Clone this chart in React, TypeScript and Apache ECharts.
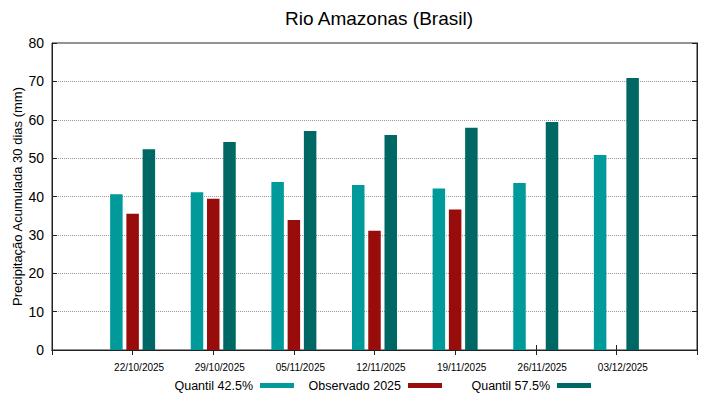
import React, { useEffect, useRef } from "react";
import * as echarts from "echarts";

const dates = ["22/10/2025", "29/10/2025", "05/11/2025", "12/11/2025", "19/11/2025", "26/11/2025", "03/12/2025"];
const quantil425 = [40.6, 41.1, 43.8, 43.0, 42.1, 43.5, 50.8];
const observado2025: (number | null)[] = [35.5, 39.4, 33.9, 31.1, 36.6, null, null];
const quantil575 = [52.3, 54.2, 57.1, 56.0, 57.9, 59.4, 70.9];
const seriesNames = ["Quantil 42.5%", "Observado 2025", "Quantil 57.5%"];
const colors = ["#009a9a", "#990c0c", "#006864"];

const pad = (arr: (number | null)[]) => ["-", ...arr.map((v) => (v == null ? "-" : v)), "-"];

export default function App() {
  const ref = useRef<HTMLDivElement>(null);
  useEffect(() => {
    if (!ref.current) return;
    const chart = echarts.init(ref.current, null, { renderer: "svg" });
    const cats = ["", ...dates, ""];
    const font = "'Liberation Sans', Arial, sans-serif";
    const legendRights = [719 - 294, 719 - 442, 719 - 591];
    chart.setOption({
      animation: false,
      textStyle: { fontFamily: font },
      title: {
        text: "Rio Amazonas (Brasil)",
        left: 374,
        textAlign: "center",
        top: 4,
        textStyle: { fontSize: 19, fontWeight: "normal", color: "#000", fontFamily: font },
      },
      legend: seriesNames.map((n, i) => ({
        data: [n],
        right: legendRights[i],
        top: 379,
        align: "right",
        icon: "rect",
        itemWidth: 34,
        itemHeight: 5,
        padding: 0,
        textStyle: { fontSize: 12.5, color: "#000", fontFamily: font, padding: [0, 2, 0, 0] },
        selectedMode: false,
      })),
      grid: {
        left: 52,
        right: 22,
        top: 43,
        bottom: 49,
        show: true,
        borderColor: "#222",
        borderWidth: 1,
        backgroundColor: "transparent",
        outerBoundsMode: "none",
        containLabel: false,
      },
      xAxis: [
        {
          type: "category",
          data: cats,
          boundaryGap: false,
          position: "bottom",
          axisLine: { lineStyle: { color: "#222" } },
          axisTick: { inside: true, length: 5, interval: 0, lineStyle: { color: "#222" } },
          axisLabel: { interval: 0, fontSize: 10, color: "#000", margin: 12, fontFamily: font, padding: [0, 0, 0, 13] },
          splitLine: { show: false },
        },
        {
          type: "category",
          data: cats,
          boundaryGap: false,
          position: "top",
          axisLine: { lineStyle: { color: "#222" } },
          axisTick: { inside: true, length: 5, interval: 0, lineStyle: { color: "#222" } },
          axisLabel: { show: false },
          splitLine: { show: false },
        },
      ],
      yAxis: [
        {
          type: "value",
          min: 0,
          max: 80,
          interval: 10,
          name: "Precipitação Acumulada 30 dias (mm)",
          nameLocation: "middle",
          nameGap: 28,
          nameMoveOverlap: false,
          nameTextStyle: { fontSize: 13, color: "#000", fontFamily: font },
          axisLine: { show: true, lineStyle: { color: "#222" } },
          axisTick: { show: true, inside: true, length: 5, lineStyle: { color: "#222" } },
          axisLabel: { fontSize: 14, color: "#000", margin: 8, fontFamily: font },
          splitLine: { show: true, lineStyle: { type: "dotted", color: "#999", width: 1 } },
        },
        {
          type: "value",
          min: 0,
          max: 80,
          interval: 10,
          position: "right",
          axisLine: { show: true, lineStyle: { color: "#222" } },
          axisTick: { show: true, inside: true, length: 5, lineStyle: { color: "#222" } },
          axisLabel: { show: false },
          splitLine: { show: false },
        },
      ],
      series: [quantil425, observado2025, quantil575].map((d, i) => ({
        name: seriesNames[i],
        type: "bar",
        data: pad(d),
        xAxisIndex: 0,
        yAxisIndex: 0,
        barWidth: 12.5,
        barGap: "30%",
        itemStyle: { color: colors[i] },
      })),
    });
    return () => chart.dispose();
  }, []);
  return <div ref={ref} style={{ width: 719, height: 399, position: "absolute", left: 0, top: 0 }} />;
}
